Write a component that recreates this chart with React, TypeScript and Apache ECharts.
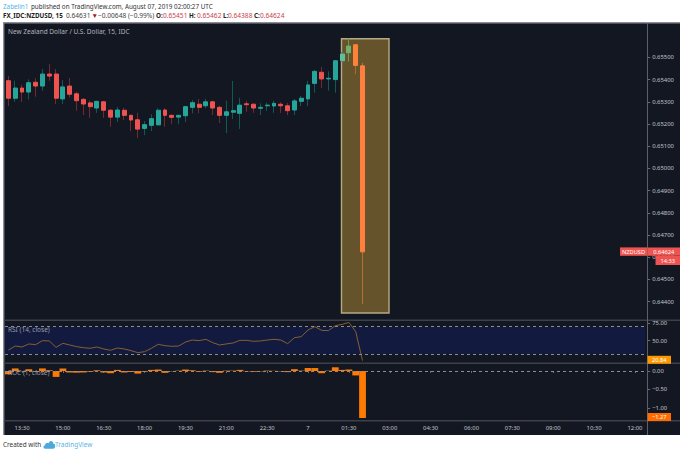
import React, { useEffect, useRef } from "react";
import * as echarts from "echarts";

// [open, close, low, high]
const candles: number[][] = [
  [0.65395, 0.65316, 0.65281, 0.65416], [0.65316, 0.65362, 0.653, 0.65395], [0.65362, 0.65344, 0.653, 0.65377],
  [0.65344, 0.65386, 0.65311, 0.65401], [0.65388, 0.65371, 0.65323, 0.65406], [0.65371, 0.65425, 0.6535, 0.65448],
  [0.65425, 0.65416, 0.65394, 0.6547], [0.65425, 0.65316, 0.6529, 0.65448], [0.65313, 0.65367, 0.6529, 0.65398],
  [0.65371, 0.65334, 0.6532, 0.65407], [0.65336, 0.65305, 0.65259, 0.65345], [0.65311, 0.6529, 0.6524, 0.65316],
  [0.65295, 0.65278, 0.65228, 0.65305], [0.65272, 0.65302, 0.6525, 0.65305], [0.653, 0.65262, 0.65228, 0.65304],
  [0.65262, 0.65231, 0.65188, 0.65268], [0.65231, 0.65263, 0.65209, 0.65277], [0.65262, 0.65239, 0.65218, 0.65273],
  [0.65239, 0.65218, 0.65168, 0.65242], [0.65219, 0.65177, 0.65137, 0.65251], [0.6518, 0.65197, 0.6515, 0.65213],
  [0.65194, 0.65224, 0.65168, 0.65244], [0.65196, 0.65262, 0.65196, 0.65271], [0.65263, 0.65239, 0.65188, 0.65271],
  [0.65239, 0.6523, 0.65199, 0.65242], [0.65231, 0.65239, 0.65199, 0.6524], [0.65237, 0.65278, 0.65209, 0.65282],
  [0.65275, 0.65296, 0.65248, 0.65308], [0.65289, 0.65275, 0.65248, 0.65313], [0.65282, 0.653, 0.65271, 0.65313],
  [0.653, 0.65272, 0.6524, 0.65305], [0.65275, 0.65239, 0.65204, 0.65282], [0.65239, 0.65255, 0.65159, 0.65305],
  [0.65253, 0.6526, 0.65222, 0.65394], [0.65248, 0.65285, 0.65178, 0.65318], [0.65291, 0.65287, 0.65255, 0.65304],
  [0.65289, 0.65272, 0.6525, 0.65293], [0.65271, 0.65275, 0.6524, 0.65293], [0.65282, 0.65285, 0.65259, 0.65296],
  [0.65281, 0.65293, 0.6525, 0.65304], [0.65289, 0.65282, 0.6525, 0.65298], [0.65282, 0.6526, 0.6524, 0.65295],
  [0.65263, 0.65304, 0.6524, 0.65313], [0.65302, 0.65316, 0.65281, 0.65326], [0.65313, 0.65376, 0.65281, 0.65394],
  [0.65383, 0.65437, 0.65341, 0.65443], [0.65433, 0.65403, 0.65362, 0.65457], [0.65403, 0.65406, 0.6535, 0.65437],
  [0.654, 0.65485, 0.65341, 0.65488], [0.65485, 0.65515, 0.65479, 0.65524], [0.65521, 0.65551, 0.65481, 0.65587],
  [0.65557, 0.65464, 0.65424, 0.65557], [0.65462, 0.64624, 0.64388, 0.65475],
];

const rsiValues = [
  36.2, 42.0, 40.6, 45.0, 44.0, 49.8, 49.3, 40.1, 45.9, 43.5, 41.1, 39.6, 38.7, 40.6, 37.7, 35.8, 39.1, 37.7,
  35.3, 32.4, 33.8, 38.7, 44.5, 42.5, 41.6, 42.0, 47.8, 50.7, 49.8, 51.7, 46.9, 43.5, 45.0, 46.4, 50.2, 50.2,
  48.8, 49.3, 50.7, 51.7, 50.7, 45.4, 54.1, 55.6, 65.2, 70.0, 64.7, 64.3, 71.5, 73.4, 76.3, 62.8, 20.84,
];

const rocValues = [
  -0.09, 0.07, -0.01, 0.05, -0.02, 0.07, 0.02, -0.16, 0.07, -0.04, -0.045, -0.04, -0.02, 0.02, -0.04, -0.06,
  0.03, -0.04, -0.03, -0.07, -0.02, 0.03, 0.04, -0.05, -0.01, 0.01, 0.04, 0.02, -0.02, 0.01, -0.03, -0.05,
  0.01, 0.01, 0.03, -0.01, -0.02, -0.01, 0.01, 0.005, -0.01, -0.03, 0.05, 0.01, 0.08, 0.08, -0.06, 0.01, 0.1,
  0.03, 0.04, -0.12, -1.27,
];

const priceTicks = [0.644, 0.645, 0.646, 0.647, 0.648, 0.649, 0.65, 0.651, 0.652, 0.653, 0.654, 0.655];
const rsiTicks = [50, 75];
const rocTicks = [-1, -0.5, 0];
const highlightBody: Record<number, string> = { 49: "#5fc0a0", 50: "#70b070", 51: "#ff8038", 52: "#ff7f3f" };
const highlightWick: Record<number, string> = { 49: "#6a8a50", 50: "#6f9a50", 51: "#a86a30", 52: "#b8702f" };

const SLOT_COUNT = 94;
const FIRST_HOUR = 13;
const categories: string[] = [];
for (let i = 0; i < SLOT_COUNT; i++) {
  const mins = FIRST_HOUR * 60 + i * 15;
  const h = Math.floor(mins / 60) % 24;
  const m = mins % 60;
  categories.push(h === 0 && m === 0 ? "7" : `${String(h).padStart(2, "0")}:${String(m).padStart(2, "0")}`);
}

const FONT = "'Noto Sans', sans-serif";
const AXIS_TEXT = "#c0c3cb";
const AXIS_SIZE = 5.9;
const BG = "#131722";
const SEP = "#3d4049";

function App() {
  const ref = useRef<HTMLDivElement>(null);
  useEffect(() => {
    document.body.style.margin = "0";
    echarts.graphic.registerShape(
      "tvcloud",
      echarts.graphic.extendPath("M3 10C0 10 0 6 3 6C3 3 7 2 8 4C9 0 15 0 15 4C19 4 19 10 15 10Z", {})
    );
    const chart = echarts.init(ref.current!, undefined, { renderer: "svg" });
    const text = (x: number, y: number, t: string, fill: string, size = 6.6, extra: any = {}) => ({
      type: "text",
      x,
      y,
      z: 100,
      style: { text: t, fill, fontSize: size, fontFamily: FONT, verticalAlign: "middle", ...extra },
    });
    const tag = (x: number, y: number, w: number, h: number, t: string, fill: string) => [
      { type: "rect", z: 90, shape: { x, y, width: w, height: h }, style: { fill } },
      text(x + w / 2, y + h / 2, t, "#ffffff", 5.7, { align: "center" }),
    ];
    const body = candles.map((c, i) => {
      const item: any = { value: [c[0], c[1], Math.min(c[0], c[1]), Math.max(c[0], c[1])] };
      const col = highlightBody[i];
      if (col) item.itemStyle = { color: col, color0: col, borderColor: col, borderColor0: col };
      return item;
    });
    const wicks = candles.map((c, i) => {
      const col = highlightWick[i];
      return col
        ? { value: c, itemStyle: { color: col, color0: col, borderColor: col, borderColor0: col } }
        : { value: c };
    });
    const yAxisBase = {
      position: "right",
      offset: 2,
      scale: true,
      splitLine: { show: false },
      axisLine: { show: false },
    };
    const yAxisLabel = (values: number[], digits: number) => ({
      customValues: values,
      color: AXIS_TEXT,
      fontSize: AXIS_SIZE,
      fontFamily: FONT,
      margin: 5,
      formatter: (v: number) => v.toFixed(digits).replace("-", "\u2212"),
    });
    const yAxisTick = (values: number[]) => ({
      show: true,
      customValues: values,
      length: 3,
      lineStyle: { color: "#6a6d75", width: 1 },
    });
    const hiddenX = (gridIndex: number) => ({
      type: "category",
      gridIndex,
      data: categories,
      boundaryGap: true,
      axisLine: { show: false },
      axisTick: { show: false },
      axisLabel: { show: false },
      splitLine: { show: false },
    });
    const dashed = { color: "#8a8d96", type: [3, 3] as any, width: 1 };
    chart.setOption({
      animation: false,
      backgroundColor: "#ffffff",
      grid: [
        { left: 5, width: 640.14, top: 23, height: 297 },
        { left: 5, width: 640.14, top: 320.5, height: 42 },
        { left: 5, width: 640.14, top: 363.5, height: 57 },
      ],
      xAxis: [
        hiddenX(0),
        hiddenX(1),
        {
          ...hiddenX(2),
          axisTick: {
            show: true,
            alignWithLabel: true,
            length: 2,
            interval: (i: number) => (i - 2) % 6 === 0,
            lineStyle: { color: "#6a6d75" },
          },
          axisLabel: {
            show: true,
            interval: (i: number) => (i - 2) % 6 === 0,
            color: AXIS_TEXT,
            fontSize: AXIS_SIZE,
            fontFamily: FONT,
            margin: 4,
            hideOverlap: false,
          },
        },
      ],
      yAxis: [
        {
          ...yAxisBase,
          gridIndex: 0,
          min: 0.64317,
          max: 0.65655,
          axisTick: yAxisTick(priceTicks),
          axisLabel: yAxisLabel(priceTicks, 5),
        },
        {
          ...yAxisBase,
          gridIndex: 1,
          min: 18.1,
          max: 79,
          axisTick: yAxisTick(rsiTicks),
          axisLabel: yAxisLabel(rsiTicks, 2),
        },
        {
          ...yAxisBase,
          gridIndex: 2,
          min: -1.338,
          max: 0.2027,
          axisTick: yAxisTick(rocTicks),
          axisLabel: yAxisLabel(rocTicks, 2),
        },
      ],
      series: [
        {
          type: "candlestick",
          name: "wicks",
          xAxisIndex: 0,
          yAxisIndex: 0,
          barWidth: 1,
          z: 3,
          data: wicks,
          itemStyle: {
            color: "#0f5a55",
            color0: "#74292f",
            borderColor: "#0f5a55",
            borderColor0: "#74292f",
            borderWidth: 1,
          },
        },
        {
          type: "candlestick",
          name: "bodies",
          xAxisIndex: 0,
          yAxisIndex: 0,
          barWidth: 4.4,
          z: 4,
          data: body,
          itemStyle: {
            color: "#26a69a",
            color0: "#ef5350",
            borderColor: "#26a69a",
            borderColor0: "#ef5350",
            borderWidth: 1,
          },
        },
        {
          type: "line",
          name: "RSI",
          xAxisIndex: 1,
          yAxisIndex: 1,
          data: rsiValues,
          showSymbol: false,
          lineStyle: { color: "#85602f", width: 1 },
          markArea: {
            silent: true,
            itemStyle: { color: "#131a3f" },
            data: [[{ yAxis: 70 }, { yAxis: 30 }]],
          },
          markLine: {
            silent: true,
            symbol: "none",
            label: { show: false },
            lineStyle: dashed,
            data: [{ yAxis: 70 }, { yAxis: 30 }],
          },
        },
        {
          type: "bar",
          name: "ROC",
          xAxisIndex: 2,
          yAxisIndex: 2,
          data: rocValues,
          barWidth: 6.8,
          itemStyle: { color: "#ff7a00" },
          markLine: {
            silent: true,
            symbol: "none",
            label: { show: false },
            lineStyle: dashed,
            data: [{ yAxis: 0 }],
          },
        },
      ],
      graphic: [
        { type: "rect", z: 0, shape: { x: 4, y: 23, width: 676, height: 412 }, style: { fill: BG } },
        { type: "rect", z: 1, shape: { x: 3, y: 22, width: 677, height: 1.4 }, style: { fill: "#8b8e95" } },
        { type: "rect", z: 1, shape: { x: 3, y: 22, width: 1.4, height: 413 }, style: { fill: "#8b8e95" } },
        { type: "rect", z: 1, shape: { x: 4, y: 319.5, width: 676, height: 1.5 }, style: { fill: SEP } },
        { type: "rect", z: 1, shape: { x: 4, y: 362.5, width: 676, height: 1.5 }, style: { fill: SEP } },
        { type: "rect", z: 1, shape: { x: 4, y: 420, width: 676, height: 1.5 }, style: { fill: SEP } },
        { type: "line", z: 1, shape: { x1: 647.5, y1: 23, x2: 647.5, y2: 435 }, style: { stroke: "#5d6069", lineWidth: 1 } },
        {
          type: "rect",
          z: 2,
          shape: { x: 341.5, y: 38.8, width: 47.5, height: 274.2 },
          style: { fill: "rgba(183,145,52,0.5)", stroke: "#b5ab86", lineWidth: 1.4 },
        },
        text(3, 6.8, "Zabelin1", "#4fb4ee", 6.3),
        text(31, 6.8, "published on TradingView.com, August 07, 2019 02:00:27 UTC", "#333333", 6.3),
        text(3, 15.6, "FX_IDC:NZDUSD, 15", "#222222", 6.3, { fontWeight: "bold" }),
        text(66, 15.6, "0.64631", "#444444", 6.6),
        text(91.5, 15.6, "\u25BC", "#a02020", 6.6),
        text(98, 15.6, "\u22120.00648 (\u22120.99%)", "#444444", 6.6),
        text(156, 15.6, "O:", "#222222", 6.3, { fontWeight: "bold" }),
        text(163, 15.6, "0.65451", "#c8424a", 6.6),
        text(189, 15.6, "H:", "#222222", 6.3, { fontWeight: "bold" }),
        text(197, 15.6, "0.65462", "#c8424a", 6.6),
        text(223, 15.6, "L:", "#222222", 6.3, { fontWeight: "bold" }),
        text(228, 15.6, "0.64388", "#c8424a", 6.6),
        text(254, 15.6, "C:", "#222222", 6.3, { fontWeight: "bold" }),
        text(260, 15.6, "0.64624", "#c8424a", 6.6),
        text(8, 31.5, "New Zealand Dollar / U.S. Dollar, 15, IDC", "#b2b5be", 6.5),
        text(8, 329, "RSI (14, close)", "#9a9da6", 6.5),
        text(8, 372, "ROC (1, close)", "#9a9da6", 6.5),
        ...tag(620, 247.4, 27, 8.4, "NZDUSD", "#ef5350"),
        ...tag(647.5, 247.4, 32.5, 8.4, "0.64624", "#ef5350"),
        ...tag(655.5, 256, 24.5, 9, "14:33", "#ef5350"),
        ...tag(647.5, 355.8, 23.5, 8, "20.84", "#ff9800"),
        ...tag(647.5, 413, 23.5, 8, "\u22121.27", "#ff6d00"),
        text(3, 444.8, "Created with", "#333333", 6.4),
        { type: "tvcloud", x: 43, y: 440.2, scaleX: 0.68, scaleY: 0.85, z: 100, style: { fill: "#4fa8dc" } },
        text(55, 444.8, "TradingView", "#5cb3e8", 6.5),
      ],
    } as any);
    return () => chart.dispose();
  }, []);
  return <div ref={ref} style={{ width: 680, height: 454 }} />;
}

export default App;
